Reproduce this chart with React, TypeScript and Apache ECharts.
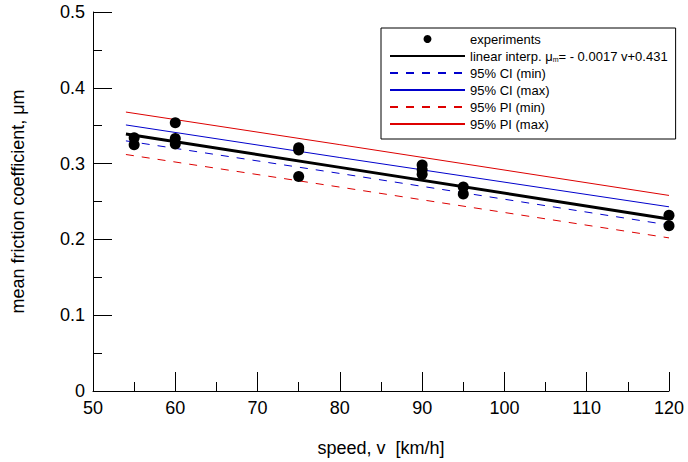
import React, { useEffect, useRef } from "react";
import * as echarts from "echarts";

const speeds = [55, 55, 60, 60, 60, 75, 75, 75, 90, 90, 90, 95, 95, 120, 120];
const friction = [0.334, 0.325, 0.354, 0.333, 0.326, 0.321, 0.318, 0.283, 0.298, 0.292, 0.286, 0.269, 0.26, 0.232, 0.218];

const lineSpeeds = [54, 80, 120];
const fitLine = [0.339, 0.295, 0.227];
const ciMin = [0.33, 0.287, 0.219];
const ciMax = [0.351, 0.308, 0.243];
const piMin = [0.312, 0.269, 0.202];
const piMax = [0.368, 0.325, 0.258];

const xTicks = { min: 50, max: 120, interval: 10 };
const yTicks = { min: 0, max: 0.5, interval: 0.1 };

const FIT_NAME = "linear interp. \u03bcm= - 0.0017 v+0.431";
const FONT = "'Liberation Sans', Arial, sans-serif";

const pairs = (xs: number[], ys: number[]) => xs.map((x, i) => [x, ys[i]]);

export default function App() {
  const ref = useRef<HTMLDivElement>(null);
  useEffect(() => {
    if (!ref.current) return;
    const chart = echarts.init(ref.current, null, { renderer: "svg" });
    const lineSeries = (name: string, data: number[], color: string, type: any, width: number) => ({
      name,
      type: "line",
      data: pairs(lineSpeeds, data),
      symbol: "none",
      lineStyle: { color, width, type },
      itemStyle: { color },
      z: 2,
    });
    const lineItem = (name: string) => ({ name, itemStyle: { opacity: 0 } });
    chart.setOption({
      animation: false,
      textStyle: { fontFamily: FONT },
      grid: { left: 93, right: 19, top: 12, bottom: 66, containLabel: false },
      legend: {
        orient: "vertical",
        left: 381,
        top: 28,
        padding: [4, 8, 8, 8],
        borderColor: "#000",
        borderWidth: 1,
        itemWidth: 75,
        itemHeight: 8,
        itemGap: 3,
        itemStyle: { borderWidth: 0 },
        data: [
          { name: "experiments", icon: "circle" },
          lineItem(FIT_NAME),
          lineItem("95% CI (min)"),
          lineItem("95% CI (max)"),
          lineItem("95% PI (min)"),
          lineItem("95% PI (max)"),
        ],
        formatter: (name: string) =>
          name === FIT_NAME ? "linear interp. \u03bc{sub|m}= - 0.0017 v+0.431" : name,
        textStyle: {
          fontFamily: FONT,
          fontSize: 13,
          color: "#000",
          lineHeight: 14,
          rich: {
            sub: { fontSize: 7, padding: [6, 0, 0, 0], fontFamily: FONT, color: "#000" },
          },
        },
      },
      xAxis: {
        type: "value",
        min: xTicks.min,
        max: xTicks.max,
        interval: xTicks.interval,
        name: "speed, v  [km/h]",
        nameLocation: "middle",
        nameGap: 48,
        nameTextStyle: { fontSize: 18, color: "#000", fontFamily: FONT },
        axisLine: { show: true, onZero: false, lineStyle: { color: "#000", width: 1 } },
        axisTick: { show: true, inside: true, length: 19, lineStyle: { color: "#000" } },
        minorTick: { show: true, splitNumber: 2, length: 9, lineStyle: { color: "#000" } },
        axisLabel: { fontSize: 18, color: "#000", margin: 8, fontFamily: FONT },
        splitLine: { show: false },
      },
      yAxis: {
        type: "value",
        min: yTicks.min,
        max: yTicks.max,
        interval: yTicks.interval,
        name: "mean friction coefficient, \u03bcm",
        nameLocation: "middle",
        nameGap: 66,
        nameTextStyle: { fontSize: 18, color: "#000", fontFamily: FONT },
        axisLine: { show: true, onZero: false, lineStyle: { color: "#000", width: 1 } },
        axisTick: { show: true, inside: true, length: 19, lineStyle: { color: "#000" } },
        minorTick: { show: true, splitNumber: 2, length: 9, lineStyle: { color: "#000" } },
        axisLabel: { fontSize: 18, color: "#000", margin: 8, fontFamily: FONT },
        splitLine: { show: false },
      },
      series: [
        {
          name: "experiments",
          type: "scatter",
          data: pairs(speeds, friction),
          symbol: "circle",
          symbolSize: 11,
          itemStyle: { color: "#000", opacity: 1 },
          z: 5,
        },
        lineSeries(FIT_NAME, fitLine, "#000", "solid", 3),
        lineSeries("95% CI (min)", ciMin, "#0000cc", [8, 8], 1),
        lineSeries("95% CI (max)", ciMax, "#0000cc", "solid", 1),
        lineSeries("95% PI (min)", piMin, "#dd0000", [8, 8], 1),
        lineSeries("95% PI (max)", piMax, "#dd0000", "solid", 1),
      ],
    });
    return () => chart.dispose();
  }, []);
  return <div ref={ref} style={{ width: 688, height: 462, position: "absolute", left: 0, top: 0, background: "#fff" }} />;
}
